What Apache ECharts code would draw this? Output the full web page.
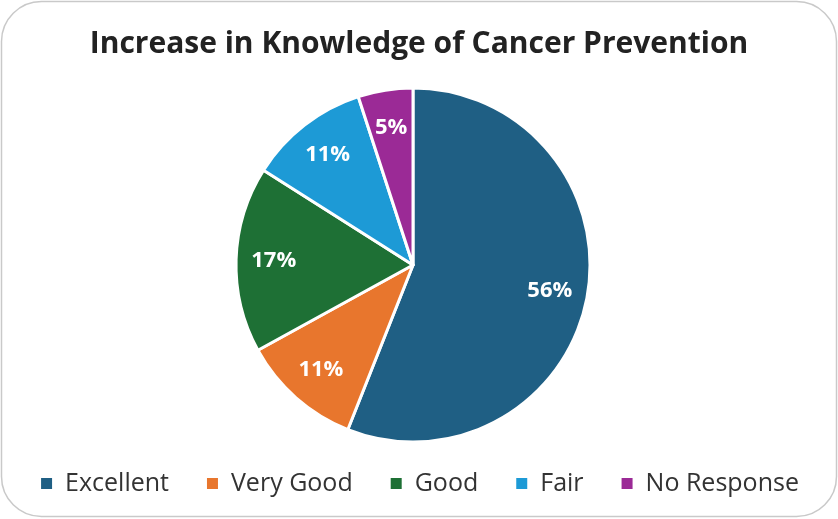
<!DOCTYPE html>
<html>
<head>
<meta charset="utf-8">
<script src="https://cdn.jsdelivr.net/npm/echarts@6/dist/echarts.min.js"></script>
<style>
  html, body { margin: 0; padding: 0; background: #ffffff; }
  #chart { width: 838px; height: 519px; }
</style>
</head>
<body>
<div id="chart"></div>
<script>
// Survey responses: knowledge gain in cancer prevention
const categories = ['Excellent', 'Very Good', 'Good', 'Fair', 'No Response'];
const shares = [56, 11, 17, 11, 5];
const palette = ['#1f5f84', '#e8762d', '#1e7035', '#1d9ad6', '#9b2a96'];

const R = 177;
const center = [413, 265];

const sliceData = categories.map((name, i) => ({
  name: name,
  value: shares[i],
  itemStyle: { color: palette[i] }
}));

const chart = echarts.init(document.getElementById('chart'));
chart.setOption({
  backgroundColor: '#ffffff',
  animation: false,
  title: {
    text: 'Increase in Knowledge of Cancer Prevention',
    left: 'center',
    top: 24,
    textStyle: {
      fontFamily: 'Open Sans',
      fontWeight: 'bold',
      fontSize: 30,
      color: '#222222'
    }
  },
  legend: {
    data: categories,
    bottom: 18,
    left: 'center',
    itemWidth: 13,
    itemHeight: 13,
    itemGap: 36,
    icon: 'rect',
    textStyle: {
      fontFamily: 'Open Sans',
      fontSize: 25,
      color: '#333333',
      padding: [0, 0, 0, 7]
    }
  },
  graphic: [{
    type: 'rect',
    silent: true,
    z: -1,
    shape: { x: 1.5, y: 1.5, width: 835, height: 515, r: 40 },
    style: { fill: 'none', stroke: '#c9c9c9', lineWidth: 1.5 }
  }],
  series: [
    {
      type: 'pie',
      center: center,
      radius: [0, R],
      startAngle: 90,
      clockwise: true,
      label: { show: false },
      labelLine: { show: false },
      itemStyle: { borderColor: '#ffffff', borderWidth: 3 },
      data: sliceData
    },
    {
      // transparent ring that carries the percentage labels further out
      type: 'pie',
      center: center,
      radius: [R * 0.54, R],
      startAngle: 90,
      clockwise: true,
      silent: true,
      itemStyle: { color: 'rgba(0,0,0,0)' },
      label: {
        show: true,
        position: 'inside',
        formatter: p => p.value + '%',
        fontFamily: 'Open Sans',
        fontWeight: 'bold',
        fontSize: 22,
        color: '#ffffff'
      },
      labelLine: { show: false },
      data: categories.map((name, i) => ({ name: name, value: shares[i] }))
    }
  ]
});
</script>
</body>
</html>
